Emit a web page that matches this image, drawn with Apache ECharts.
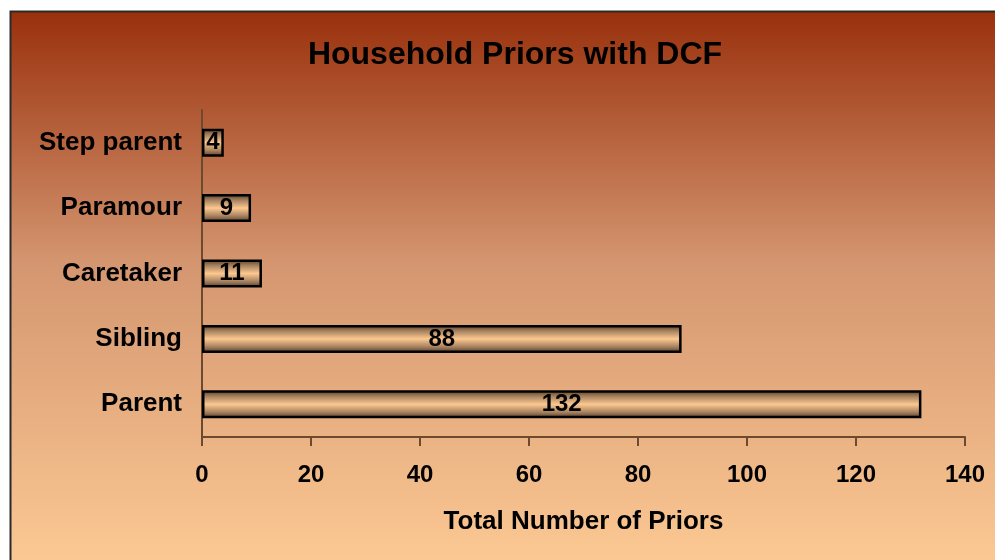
<!DOCTYPE html>
<html>
<head>
<meta charset="utf-8">
<script src="https://cdn.jsdelivr.net/npm/echarts@6/dist/echarts.min.js"></script>
<style>
  body { margin: 0; background: #fff; }
  #main { width: 995px; height: 560px; }
</style>
</head>
<body>
<div id="main"></div>
<script>
// data
var categories = ['Parent', 'Sibling', 'Caretaker', 'Paramour', 'Step parent'];
var priors = [132, 88, 11, 9, 4];
var xTicks = [0, 20, 40, 60, 80, 100, 120, 140];

var chart = echarts.init(document.getElementById('main'));

var barFill = new echarts.graphic.LinearGradient(0, 0, 0, 1, [
    { offset: 0, color: '#4e3a2c' },
    { offset: 0.22, color: '#a8825f' },
    { offset: 0.5, color: '#fcc890' },
    { offset: 0.78, color: '#a8825f' },
    { offset: 1, color: '#4e3a2c' }
]);

var font = 'Liberation Sans';

chart.setOption({
    animation: false,
    graphic: [
        {
            type: 'rect',
            z: -10,
            shape: { x: 10.5, y: 11.5, width: 995, height: 560 },
            style: {
                fill: new echarts.graphic.LinearGradient(0, 0, 0, 1, [
                    { offset: 0, color: '#99300c' },
                    { offset: 0.45, color: '#d49670' },
                    { offset: 1, color: '#fdca94' }
                ]),
                stroke: '#2a2a2a',
                lineWidth: 2
            }
        }
    ],
    title: {
        text: 'Household Priors with DCF',
        left: 510,
        top: 34,
        textAlign: 'center',
        textStyle: { fontFamily: font, fontWeight: 'bold', fontSize: 32, color: '#000' }
    },
    grid: { left: 202, right: 30, top: 110, bottom: 123, containLabel: false },
    xAxis: {
        type: 'value',
        min: 0,
        max: 140,
        interval: 20,
        name: 'Total Number of Priors',
        nameLocation: 'middle',
        nameGap: 72,
        nameTextStyle: { fontFamily: font, fontWeight: 'bold', fontSize: 26, color: '#000' },
        axisLine: { show: true, lineStyle: { color: '#6b4a30', width: 2 } },
        axisTick: { show: true, length: 9, lineStyle: { color: '#6b4a30', width: 2 } },
        axisLabel: {
            margin: 26,
            fontFamily: font, fontWeight: 'bold', fontSize: 24, color: '#000',
            formatter: function (v) { return xTicks.indexOf(v) >= 0 ? String(v) : ''; }
        },
        splitLine: { show: false }
    },
    yAxis: {
        type: 'category',
        data: categories,
        axisLine: { show: true, lineStyle: { color: '#6b4a30', width: 2 } },
        axisTick: { show: false },
        axisLabel: { margin: 20, fontFamily: font, fontWeight: 'bold', fontSize: 26, color: '#000' }
    },
    series: [
        {
            type: 'bar',
            data: priors,
            barWidth: 28,
            itemStyle: { color: barFill, borderColor: '#000', borderWidth: 2.5 },
            label: {
                show: true,
                position: 'inside',
                fontFamily: font, fontWeight: 'bold', fontSize: 24, color: '#000'
            }
        }
    ]
});
</script>
</body>
</html>
